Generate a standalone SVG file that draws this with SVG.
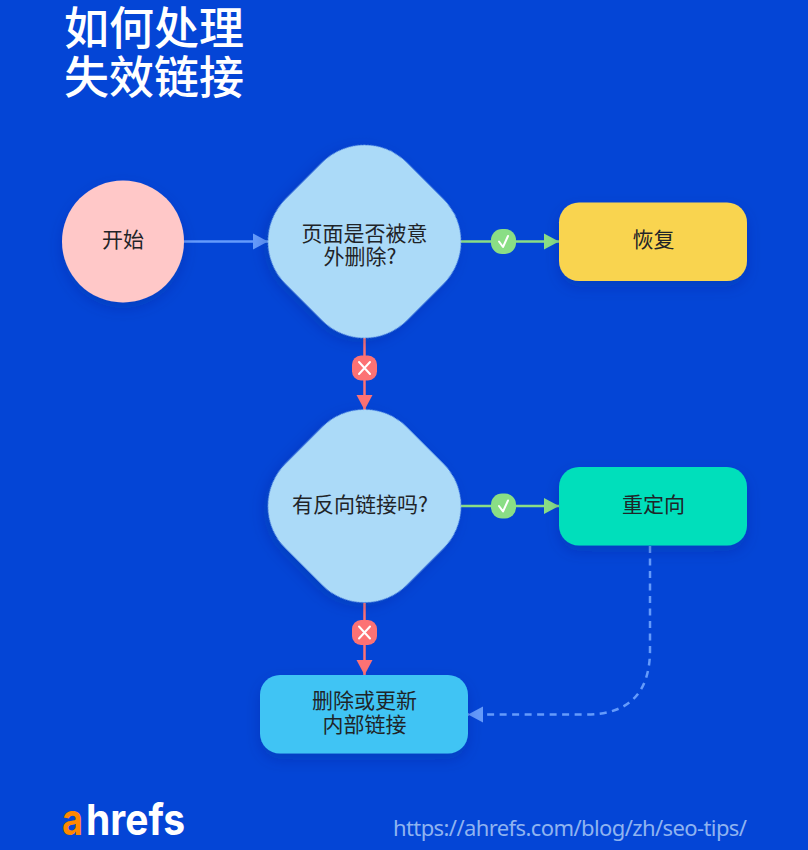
<svg xmlns="http://www.w3.org/2000/svg" width="808" height="850" viewBox="0 0 808 850">
<defs>
<filter id="sh" x="-20%" y="-20%" width="140%" height="150%"><feDropShadow dx="0" dy="6" stdDeviation="7" flood-color="#02226e" flood-opacity="0.22"/></filter>
<marker id="mb" markerUnits="userSpaceOnUse" markerWidth="18" markerHeight="18" refX="15" refY="9" orient="auto"><path d="M0 1L15 9L0 17Z" fill="#659bfb"/></marker>
<marker id="mg" markerUnits="userSpaceOnUse" markerWidth="18" markerHeight="18" refX="15" refY="9" orient="auto"><path d="M0 1L15 9L0 17Z" fill="#8ade85"/></marker>
<marker id="mr" markerUnits="userSpaceOnUse" markerWidth="18" markerHeight="18" refX="15" refY="9" orient="auto"><path d="M0 1L15 9L0 17Z" fill="#fc7274"/></marker>
</defs>
<style>
text{font-family:"Noto Sans CJK SC","Noto Sans",sans-serif}
.l{font-size:21px;fill:#1f2428;text-anchor:middle}
.t{font-size:45px;fill:#fff;font-weight:500}
.c{fill:none;stroke-width:2.500}
.g{stroke:#8ade85}.r{stroke:#fc7274}.b{stroke:#659bfb}
.i{fill:none;stroke:#fff;stroke-width:2;stroke-linecap:round;stroke-linejoin:round}
.o{font-family:Inter,"Open Sans",sans-serif;font-size:43px;font-weight:700}
</style>
<rect width="808" height="850" fill="#0445d6"/>
<g id="title"><text class="t" x="64" y="45">如何处理</text><text class="t" x="64" y="94">失效链接</text></g>
<g id="connectors">
<path class="c b" d="M184 241.500H268" stroke-width="2" marker-end="url(#mb)"/>
<path class="c g" d="M461 241.500H559" marker-end="url(#mg)"/>
<path class="c r" d="M364.500 338V410" marker-end="url(#mr)"/>
<path class="c g" d="M461 506H559" marker-end="url(#mg)"/>
<path class="c r" d="M364.500 603V675" marker-end="url(#mr)"/>
<path class="c b" d="M650 546V650Q650 714.500 586 714.500H468" stroke-dasharray="7 5.500" marker-end="url(#mb)"/>
</g>
<g id="start"><circle cx="123" cy="241.500" r="61" fill="#ffc8c8" filter="url(#sh)"/><text class="l" x="123" y="246.500">开始</text></g>
<g id="d1"><rect x="278.700" y="155.700" width="171.600" height="171.600" rx="60" transform="rotate(45 364.500 241.500)" fill="#abdaf8" filter="url(#sh)"/><text class="l" x="364.500" y="240.500">页面是否被意</text><text class="l" x="360" y="264">外删除?</text></g>
<g id="restore"><rect x="559" y="202.500" width="188" height="78.500" rx="20" fill="#f9d44f" filter="url(#sh)"/><text class="l" x="653.500" y="247">恢复</text></g>
<g id="d2"><rect x="278.700" y="420.200" width="171.600" height="171.600" rx="60" transform="rotate(45 364.500 506)" fill="#abdaf8" filter="url(#sh)"/><text class="l" x="360" y="512">有反向链接吗?</text></g>
<g id="redirect"><rect x="559" y="467" width="188" height="78.500" rx="20" fill="#00dfbb" filter="url(#sh)"/><text class="l" x="653.500" y="512">重定向</text></g>
<g id="update"><rect x="260" y="675" width="208" height="78.500" rx="20" fill="#40c4f4" filter="url(#sh)"/><text class="l" x="364.500" y="708">删除或更新</text><text class="l" x="364.500" y="731.500">内部链接</text></g>
<g id="badges">
<rect x="491" y="229" width="25" height="25" rx="11" fill="#8ade85"/><path class="i" d="M499 241.500L503 247L508 236"/>
<rect x="491" y="493.500" width="25" height="25" rx="11" fill="#8ade85"/><path class="i" d="M499 506L503 511.500L508 500.500"/>
<rect x="352" y="355.500" width="25" height="25" rx="9" fill="#fc7274"/><path class="i" d="M359 362L370 374M370 362L359 374"/>
<rect x="352" y="620" width="25" height="25" rx="9" fill="#fc7274"/><path class="i" d="M359 626.500L370 638.500M370 626.500L359 638.500"/>
</g>
<g id="logo"><text class="o" x="62" y="835" fill="#ff8800" textLength="21" lengthAdjust="spacingAndGlyphs">a</text><text class="o" x="86" y="835" fill="#fff" textLength="99" lengthAdjust="spacingAndGlyphs">hrefs</text></g>
<text id="url" x="747" y="836" font-size="22" fill="#8fb3f0" text-anchor="end" style="font-family:'Noto Sans',sans-serif" textLength="354">https://ahrefs.com/blog/zh/seo-tips/</text>
</svg>
